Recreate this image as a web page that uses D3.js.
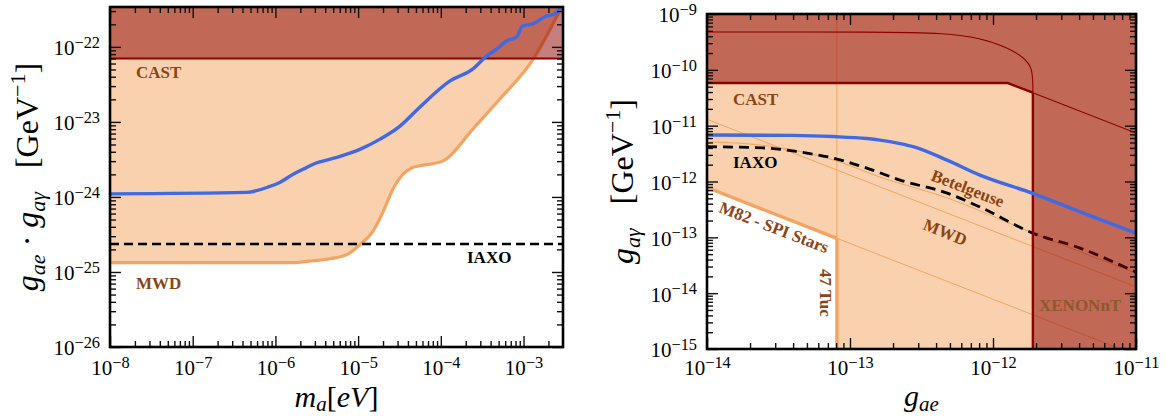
<!DOCTYPE html>
<html>
<head>
<meta charset="utf-8">
<script src="https://cdn.jsdelivr.net/npm/d3@7"></script>
<style>
  body { margin: 0; background: #fff; }
  svg { display: block; }
</style>
</head>
<body>
<svg id="chart" width="1172" height="416"></svg>
<script>
// ---------- Left panel: g_ae * g_agamma versus axion mass ----------
const massDomain = [1e-8, 3e-3];
const productDomain = [1e-26, 3.4e-22];
const massMajorTicks = [1e-8, 1e-7, 1e-6, 1e-5, 1e-4, 1e-3];
const productMajorTicks = [1e-26, 1e-25, 1e-24, 1e-23, 1e-22];

const castProduct = 7.0e-23;
const iaxoProduct = 2.36e-25;

const mwdMass = [1e-8, 1.62e-6, 2.83e-6, 4.54e-6, 7.28e-6, 1.05e-5, 1.5e-5, 1.98e-5, 2.62e-5,
  3.46e-5, 4.56e-5, 5.55e-5, 1.05e-4, 2.42e-4, 5.13e-4, 1.29e-3, 2.8e-3];
const mwdProduct = [1.33e-25, 1.33e-25, 1.41e-25, 1.5e-25, 1.7e-25, 2.31e-25, 3.45e-25, 6.18e-25, 1.26e-24,
  1.99e-24, 2.47e-24, 2.6e-24, 3.0e-24, 7.96e-24, 2.0e-23, 6.7e-23, 3.2e-22];

const reachMass = [1e-8, 4.5e-7, 8.55e-7, 1.13e-6, 1.62e-6, 2.39e-6, 2.83e-6, 5.52e-6, 1.05e-5, 1.82e-5,
  3.18e-5, 5.55e-5, 1.28e-4, 2.42e-4, 3.57e-4, 4.72e-4, 6.24e-4, 8.23e-4, 9.72e-4, 1.29e-3, 1.9e-3, 2.37e-3, 2.8e-3];
const reachProduct = [1.1e-24, 1.15e-24, 1.38e-24, 1.56e-24, 1.99e-24, 2.47e-24, 2.71e-24, 3.36e-24, 4.3e-24, 5.85e-24,
  8.73e-24, 1.57e-23, 3.49e-23, 5.05e-23, 7.53e-23, 9.35e-23, 1.2e-22, 1.35e-22, 1.9e-22, 2.02e-22, 2.58e-22, 2.75e-22, 3.3e-22];

// ---------- Right panel: g_agamma versus g_ae ----------
const gaeDomain = [1e-14, 1e-11];
const gagDomain = [1e-15, 1e-9];
const gaeMajorTicks = [1e-14, 1e-13, 1e-12, 1e-11];
const gagMajorTicks = [1e-15, 1e-14, 1e-13, 1e-12, 1e-11, 1e-10, 1e-9];

const castGae = [1e-14, 1.27e-12, 1.9e-12, 1e-11];
const castGag = [5.8e-11, 5.8e-11, 3.9e-11, 7.4e-12];
const xenonGae = 1.9e-12;

const envelopeGae = [1e-14, 1.62e-13, 4.77e-13, 8.11e-13, 1.25e-12, 1.62e-12, 1.9e-12, 1.9e-12];
const envelopeGag = [4.76e-10, 4.76e-10, 4.56e-10, 3.72e-10, 2.56e-10, 1.7e-10, 1.12e-10, 3.9e-11];

const tucGae = 8.1e-14;
const m82Gae = [1e-14, 8.1e-14, 7.8e-12];
const m82Gag = [7.8e-13, 9.6e-14, 1e-15];

const mwdGae = [1e-14, 1e-11];
const mwdGag = [1.3e-11, 1.3e-14];

const betelGae = [1e-14, 2.0e-14, 4.0e-14, 8.5e-14, 1.62e-13, 4.77e-13, 1.9e-12, 1e-11];
const betelGag = [5.1e-12, 4.7e-12, 3.66e-12, 2.23e-12, 1.2e-12, 5.1e-13, 1.19e-13, 2.28e-14];

const iaxoGae = [1e-14, 2.63e-14, 4.47e-14, 7.6e-14, 1.31e-13, 2.24e-13, 4.77e-13, 8.11e-13, 1.9e-12, 4.06e-12, 1e-11];
const iaxoGag = [4.19e-12, 3.97e-12, 3.37e-12, 2.63e-12, 1.74e-12, 1.06e-12, 6.2e-13, 3.48e-13, 1.19e-13, 6.4e-14, 2.38e-14];

const reachGae = [1e-14, 4.0e-14, 7.6e-14, 1.31e-13, 1.62e-13, 2.24e-13, 2.76e-13, 4.77e-13, 8.11e-13, 1.9e-12, 4.06e-12, 1e-11];
const reachGag = [6.8e-12, 6.7e-12, 6.38e-12, 5.88e-12, 5.52e-12, 4.78e-12, 4.22e-12, 2.42e-12, 1.3e-12, 6.12e-13, 2.86e-13, 1.19e-13];

// ---------- styling ----------
const FONT = '"Liberation Serif", "DejaVu Serif", serif';
const ORANGE = "#f4a460";
const DARKRED = "#8b0000";
const BLUE = "#4169e1";
const BROWN = "#8b4513";

const svg = d3.select("#chart");
const zip = (xs, ys) => xs.map((v, i) => [v, ys[i]]);

function minorTicks(domain) {
  const out = [];
  const lo = Math.floor(Math.log10(domain[0])), hi = Math.ceil(Math.log10(domain[1]));
  for (let e = lo; e <= hi; e++) {
    for (let m = 2; m <= 9; m++) {
      const v = m * Math.pow(10, e);
      if (v > domain[0] && v < domain[1]) out.push(v);
    }
  }
  return out;
}

function powerLabel(sel) {
  sel.each(function (d) {
    const e = Math.round(Math.log10(d));
    const t = d3.select(this);
    t.text("10");
    t.append("tspan").attr("dy", "-0.45em").attr("font-size", "0.78em").text("\u2212" + Math.abs(e));
  });
}

function styleAxis(g) {
  g.attr("font-family", FONT).attr("font-size", 21).attr("fill", "#111");
  g.select(".domain").remove();
  g.selectAll(".tick line").attr("stroke", "#111");
}

// Draws a log-log frame with inward ticks on all four sides
function drawFrame(g, x, y, xTicks, yTicks, xPad, yPad) {
  const [xl, xr] = x.range();
  const [yb, yt] = y.range();
  const major = 11, minor = 6;
  const xMin = minorTicks(x.domain()), yMin = minorTicks(y.domain());

  const place = (axis, tr) => g.append("g").attr("transform", tr).call(axis).call(styleAxis);

  place(d3.axisBottom(x).tickValues(xMin).tickSize(-minor).tickFormat(""), `translate(0,${yb})`);
  place(d3.axisTop(x).tickValues(xMin).tickSize(-minor).tickFormat(""), `translate(0,${yt})`);
  place(d3.axisLeft(y).tickValues(yMin).tickSize(-minor).tickFormat(""), `translate(${xl},0)`);
  place(d3.axisRight(y).tickValues(yMin).tickSize(-minor).tickFormat(""), `translate(${xr},0)`);

  const xb = place(d3.axisBottom(x).tickValues(xTicks).tickSize(-major).tickPadding(xPad), `translate(0,${yb})`);
  xb.selectAll(".tick text").call(powerLabel);
  place(d3.axisTop(x).tickValues(xTicks).tickSize(-major).tickFormat(""), `translate(0,${yt})`);
  const yl = place(d3.axisLeft(y).tickValues(yTicks).tickSize(-major).tickPadding(yPad), `translate(${xl},0)`);
  yl.selectAll(".tick text").attr("dy", "0.38em").call(powerLabel);
  place(d3.axisRight(y).tickValues(yTicks).tickSize(-major).tickFormat(""), `translate(${xr},0)`);

  g.selectAll(".tick line").attr("stroke-width", 1.4);

  g.append("rect")
    .attr("x", xl).attr("y", yt).attr("width", xr - xl).attr("height", yb - yt)
    .attr("fill", "none").attr("stroke", "#000").attr("stroke-width", 2.6);
}

function annot(g, x, y, text, opts = {}) {
  const t = g.append("text")
    .attr("x", x).attr("y", y)
    .attr("font-family", FONT)
    .attr("font-weight", opts.weight || "bold")
    .attr("font-size", opts.size || 17)
    .attr("fill", opts.color || BROWN)
    .attr("text-anchor", opts.anchor || "start")
    .text(text);
  if (opts.rotate) t.attr("transform", `rotate(${opts.rotate},${x},${y})`);
  return t;
}

// ===================== LEFT PANEL =====================
{
  const L = { left: 110, right: 563, top: 7, bottom: 347 };
  const x = d3.scaleLog().domain(massDomain).range([L.left, L.right]);
  const y = d3.scaleLog().domain(productDomain).range([L.bottom, L.top]);
  const g = svg.append("g");

  g.append("clipPath").attr("id", "clipL").append("rect")
    .attr("x", L.left).attr("y", L.top).attr("width", L.right - L.left).attr("height", L.bottom - L.top);
  const plot = g.append("g").attr("clip-path", "url(#clipL)");

  const mwd = zip(mwdMass, mwdProduct);
  const line = d3.line().x(d => x(d[0])).y(d => y(d[1])).curve(d3.curveMonotoneX);

  // MWD allowed region (above the curve)
  const area = d3.area().x(d => x(d[0])).y0(y(productDomain[1]) - 5).y1(d => y(d[1])).curve(d3.curveMonotoneX);
  plot.append("path").datum(mwd).attr("d", area).attr("fill", ORANGE).attr("fill-opacity", 0.5);
  plot.append("path").datum(mwd).attr("d", line)
    .attr("fill", "none").attr("stroke", ORANGE).attr("stroke-width", 3.2);

  // IAXO sensitivity
  plot.append("line")
    .attr("x1", x(massDomain[0])).attr("x2", x(massDomain[1]))
    .attr("y1", y(iaxoProduct)).attr("y2", y(iaxoProduct))
    .attr("stroke", "#000").attr("stroke-width", 2.6).attr("stroke-dasharray", "9,5");

  // CAST excluded band
  plot.append("rect")
    .attr("x", L.left).attr("y", L.top - 5)
    .attr("width", L.right - L.left).attr("height", y(castProduct) - L.top + 5)
    .attr("fill", DARKRED).attr("fill-opacity", 0.5);
  plot.append("line")
    .attr("x1", L.left).attr("x2", L.right)
    .attr("y1", y(castProduct)).attr("y2", y(castProduct))
    .attr("stroke", DARKRED).attr("stroke-width", 2.2);

  // projected reach
  plot.append("path").datum(zip(reachMass, reachProduct)).attr("d", line)
    .attr("fill", "none").attr("stroke", BLUE).attr("stroke-width", 3.4);

  annot(g, 136, 78, "CAST");
  annot(g, 136, 289, "MWD");
  annot(g, 467, 263, "IAXO", { color: "#000" });

  drawFrame(g, x, y, massMajorTicks, productMajorTicks, 13, 10);

  // axis titles
  const yl = g.append("text")
    .attr("transform", `translate(38,${(L.top + L.bottom) / 2}) rotate(-90)`)
    .attr("text-anchor", "middle").attr("font-family", FONT).attr("font-size", 32).attr("fill", "#000");
  yl.append("tspan").attr("font-style", "italic").text("g");
  yl.append("tspan").attr("font-style", "italic").attr("font-size", 22).attr("dy", 7).text("ae");
  yl.append("tspan").attr("dy", -7).text(" \u00b7 ");
  yl.append("tspan").attr("font-style", "italic").text("g");
  yl.append("tspan").attr("font-style", "italic").attr("font-size", 22).attr("dy", 7).text("a\u03b3");
  yl.append("tspan").attr("dy", -7).text("\u2002 [GeV");
  yl.append("tspan").attr("font-size", 22).attr("dy", -13).text("\u22121");
  yl.append("tspan").attr("dy", 13).text("]");

  const xl = g.append("text")
    .attr("x", (L.left + L.right) / 2).attr("y", 407)
    .attr("text-anchor", "middle").attr("font-family", FONT).attr("font-size", 30).attr("fill", "#000");
  xl.append("tspan").attr("font-style", "italic").text("m");
  xl.append("tspan").attr("font-style", "italic").attr("font-size", 21).attr("dy", 4).text("a");
  xl.append("tspan").attr("dy", -4).text("[");
  xl.append("tspan").attr("font-style", "italic").text("eV");
  xl.append("tspan").text("]");
}

// ===================== RIGHT PANEL =====================
{
  const R = { left: 707, right: 1136, top: 14, bottom: 349 };
  const x = d3.scaleLog().domain(gaeDomain).range([R.left, R.right]);
  const y = d3.scaleLog().domain(gagDomain).range([R.bottom, R.top]);
  const g = svg.append("g");

  g.append("clipPath").attr("id", "clipR").append("rect")
    .attr("x", R.left).attr("y", R.top).attr("width", R.right - R.left).attr("height", R.bottom - R.top);
  const plot = g.append("g").attr("clip-path", "url(#clipR)");

  const lin = d3.line().x(d => x(d[0])).y(d => y(d[1]));
  const smooth = d3.line().x(d => x(d[0])).y(d => y(d[1])).curve(d3.curveMonotoneX);

  // astrophysical excluded region (everything outside the open corner)
  const open = [
    [gaeDomain[0], gagDomain[1]], [gaeDomain[1], gagDomain[1]], [gaeDomain[1], gagDomain[0]],
    [tucGae, gagDomain[0]], [m82Gae[1], m82Gag[1]], [m82Gae[0], m82Gag[0]]
  ];
  plot.append("path").attr("d", lin(open) + "Z").attr("fill", ORANGE).attr("fill-opacity", 0.5);

  // thin bounds
  const thin = (pts, w = 1) => plot.append("path").attr("d", lin(pts))
    .attr("fill", "none").attr("stroke", ORANGE).attr("stroke-width", w);
  thin(zip(mwdGae, mwdGag));
  plot.append("path").datum(zip(betelGae, betelGag)).attr("d", smooth)
    .attr("fill", "none").attr("stroke", ORANGE).attr("stroke-width", 1);
  thin([[m82Gae[1], m82Gag[1]], [m82Gae[2], m82Gag[2]]]);
  thin([[tucGae, gagDomain[1]], [tucGae, m82Gag[1]]]);

  // M82 / 47 Tuc bounds
  thin([[m82Gae[0], m82Gag[0]], [m82Gae[1], m82Gag[1]]], 3.4);
  thin([[tucGae, m82Gag[1]], [tucGae, gagDomain[0]]], 3.4);

  // IAXO sensitivity
  plot.append("path").datum(zip(iaxoGae, iaxoGag)).attr("d", smooth)
    .attr("fill", "none").attr("stroke", "#000").attr("stroke-width", 2.8).attr("stroke-dasharray", "10,6");

  // CAST + XENONnT excluded region
  const lab = [
    [gaeDomain[0], gagDomain[1]], [castGae[0], castGag[0]], [castGae[1], castGag[1]], [castGae[2], castGag[2]],
    [xenonGae, gagDomain[0]], [gaeDomain[1], gagDomain[0]], [gaeDomain[1], gagDomain[1]]
  ];
  plot.append("path").attr("d", lin(lab) + "Z").attr("fill", DARKRED).attr("fill-opacity", 0.5);

  const castPts = zip(castGae, castGag);
  plot.append("path").attr("d", lin(castPts.slice(0, 3)))
    .attr("fill", "none").attr("stroke", DARKRED).attr("stroke-width", 2.4);
  plot.append("path").attr("d", lin(castPts.slice(2)))
    .attr("fill", "none").attr("stroke", DARKRED).attr("stroke-width", 1.1);
  plot.append("path").attr("d", lin([[xenonGae, castGag[2]], [xenonGae, gagDomain[0]]]))
    .attr("fill", "none").attr("stroke", DARKRED).attr("stroke-width", 2.4);
  plot.append("path").datum(zip(envelopeGae, envelopeGag)).attr("d", d3.line().x(d => x(d[0])).y(d => y(d[1])).curve(d3.curveBasis))
    .attr("fill", "none").attr("stroke", DARKRED).attr("stroke-width", 1.1);

  // projected reach
  plot.append("path").datum(zip(reachGae, reachGag)).attr("d", smooth)
    .attr("fill", "none").attr("stroke", BLUE).attr("stroke-width", 3.4);

  annot(g, 733, 105, "CAST");
  annot(g, 733, 168, "IAXO", { color: "#000" });
  annot(g, 930, 180, "Betelgeuse", { rotate: 21 });
  annot(g, 922, 229, "MWD", { rotate: 22 });
  annot(g, 718, 212, "M82 - SPI Stars", { rotate: 21 });
  annot(g, 820, 269, "47 Tuc", { rotate: 90 });
  annot(g, 1039, 311, "XENONnT", { color: "#8b5a2b" });

  drawFrame(g, x, y, gaeMajorTicks, gagMajorTicks, 11, 10);

  const yl = g.append("text")
    .attr("transform", `translate(633,${(R.top + R.bottom) / 2}) rotate(-90)`)
    .attr("text-anchor", "middle").attr("font-family", FONT).attr("font-size", 32).attr("fill", "#000");
  yl.append("tspan").attr("font-style", "italic").text("g");
  yl.append("tspan").attr("font-style", "italic").attr("font-size", 22).attr("dy", 7).text("a\u03b3");
  yl.append("tspan").attr("dy", -7).text("\u2002 [GeV");
  yl.append("tspan").attr("font-size", 22).attr("dy", -13).text("\u22121");
  yl.append("tspan").attr("dy", 13).text("]");

  const xl = g.append("text")
    .attr("x", (R.left + R.right) / 2).attr("y", 406)
    .attr("text-anchor", "middle").attr("font-family", FONT).attr("font-size", 30).attr("fill", "#000");
  xl.append("tspan").attr("font-style", "italic").text("g");
  xl.append("tspan").attr("font-style", "italic").attr("font-size", 21).attr("dy", 5).text("ae");
}
</script>
</body>
</html>
